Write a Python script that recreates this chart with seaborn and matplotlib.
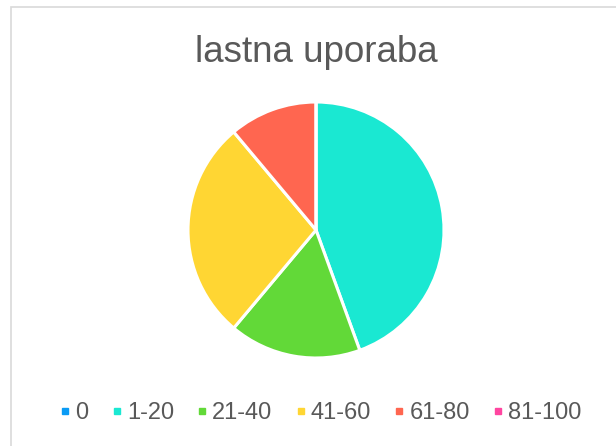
import matplotlib
matplotlib.use("Agg")
import matplotlib.pyplot as plt
import seaborn as sns
from matplotlib.patches import Rectangle
from matplotlib.lines import Line2D

sns.set_theme(style="white")
plt.rcParams['font.family'] = ['Liberation Sans', 'DejaVu Sans']

categories = ['0', '1-20', '21-40', '41-60', '61-80', '81-100']
values = [0, 8, 3, 5, 2, 0]
colors = ['#0A9BF5', '#1AE8D2', '#62D938', '#FFD633', '#FF6650', '#FF45A0']

fig = plt.figure(figsize=(6.16, 4.46), dpi=100)
W, H = 616, 446

# outer chart frame
fig.patches.append(Rectangle((11 / W, -0.05), 1.1, (H - 7) / H + 0.05,
                             transform=fig.transFigure, fill=False,
                             edgecolor='#D9D9D9', linewidth=1.2))

# pie: center (316, 230), radius ~128 px
r = 128
ax = fig.add_axes([(316 - r) / W, (H - 230 - r) / H, 2 * r / W, 2 * r / H])
ax.pie(values, colors=colors, startangle=90, counterclock=False,
       wedgeprops=dict(edgecolor='white', linewidth=2.2), radius=1.0)
ax.set_xlim(-1, 1)
ax.set_ylim(-1, 1)
ax.set_aspect('equal')
ax.axis('off')

fig.text(316 / W, 1 - 52 / H, 'lastna uporaba', ha='center', va='center',
         fontsize=26.5, color='#595959')

handles = [Line2D([0], [0], marker='s', linestyle='none', markersize=4,
                  markerfacecolor=c, markeredgecolor=c) for c in colors]
fig.legend(handles, categories, loc='center', bbox_to_anchor=(321 / W, 1 - 413 / H),
           ncol=6, frameon=False, fontsize=17, handlelength=0.4,
           handletextpad=0.22, columnspacing=1.0, labelcolor='#595959')

fig.savefig('out.png', dpi=100, facecolor='white')
